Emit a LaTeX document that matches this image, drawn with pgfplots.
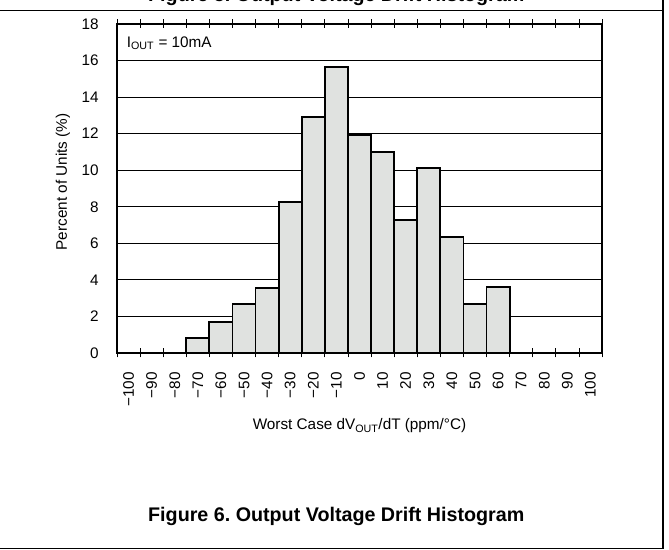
\documentclass[border=0pt]{standalone}
\usepackage{pgfplots}
\pgfplotsset{compat=1.18}
\usepackage{fontspec}
\setmainfont{Liberation Sans}
\definecolor{barfill}{rgb}{0.88,0.885,0.88}

\begin{document}
\frenchspacing
\begin{tikzpicture}[x=1bp,y=1bp]
\useasboundingbox (0,0) rectangle (669,550);
\clip (0,0) rectangle (669,550);

% page frame and cut-off caption of the figure above
\node[anchor=base west,font=\fontsize{19.7bp}{22bp}\selectfont\bfseries,inner sep=0pt]
  at (148,548) {Figure 5. Output Voltage Drift Histogram};
\draw[line width=1.2bp] (0,539.5) -- (663,539.5);
\draw[line width=1.2bp] (663,550) -- (663,1.5) -- (0,1.5);
\node[anchor=base west,font=\fontsize{19.7bp}{22bp}\selectfont\bfseries,inner sep=0pt]
  at (148,28) {Figure 6. Output Voltage Drift Histogram};

\begin{axis}[%
at={(117bp,197bp)},
anchor=south west,
width=485bp,
height=329bp,
scale only axis,
font=\fontsize{15.3bp}{18bp}\selectfont,
xmin=-105,
xmax=105,
ymin=0,
ymax=18,
xtick={-100,-90,...,100},
xticklabels={−100,−90,−80,−70,−60,−50,−40,−30,−20,−10,0,10,20,30,40,50,60,70,80,90,100},
major x tick style={draw=none},
minor xtick={-105,-95,...,105},
minor tick length=9bp,
tick align=center,
x tick style={line width=0.8bp,black},
xticklabel style={rotate=90,anchor=east,inner sep=0pt},
xticklabel shift=17bp,
ytick={0,2,...,18},
y tick style={draw=none},
yticklabel style={anchor=east,inner sep=0pt},
yticklabel shift=16bp,
/pgf/number format/assume math mode=true,
ymajorgrids,
grid style={line width=0.8bp,black},
axis line style={line width=2bp},
xlabel={Worst Case dV\textsubscript{OUT}/dT (ppm/°C)},
xlabel style={at={(axis description cs:0.5,0)},anchor=base,yshift=-77bp},
ylabel={Percent of Units (\%)},
ylabel style={at={(axis description cs:-0.1113,0.52)},anchor=center},
]
\addplot[ybar,bar width=10,fill=barfill,draw=black,line width=1.8bp]
coordinates {
(-70,0.80) (-60,1.71) (-50,2.70) (-40,3.57) (-30,8.24) (-20,12.89)
(-10,15.66) (0,11.93) (10,11.01) (20,7.28) (30,10.10) (40,6.36)
(50,2.66) (60,3.59)
};
\node[anchor=base west,inner sep=0pt] at (rel axis cs:0.02,0.93) {I\textsubscript{OUT} = 10mA};
\end{axis}
\end{tikzpicture}
\end{document}
